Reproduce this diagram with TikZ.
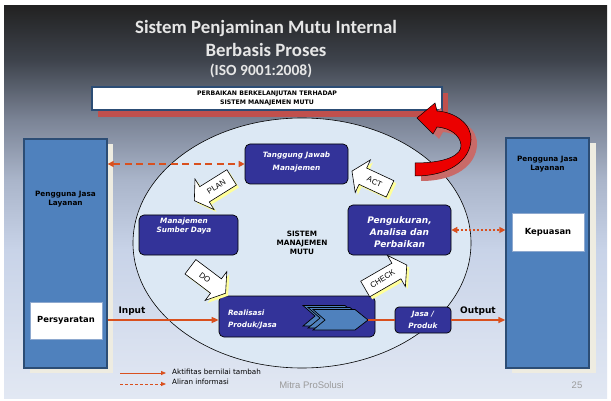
\documentclass[tikz,border=0pt]{standalone}
\usepackage{fontspec}
\setmainfont{DejaVu Sans}
\newfontfamily\titlefont{Carlito}
\newfontfamily\arialfont{Liberation Sans}
\usetikzlibrary{arrows.meta,calc,shapes.geometric}

% slide background, light at the bottom, dark at the top
% (TikZ fits the path into the middle half of a declared shading)
\definecolor{bgA}{HTML}{E2E8F3}
\definecolor{bgB}{HTML}{C8D3E8}
\definecolor{bgC}{HTML}{AAB5CA}
\definecolor{bgD}{HTML}{7B8496}
\definecolor{bgE}{HTML}{3E434C}
\definecolor{bgF}{HTML}{222222}
\pgfdeclareverticalshading{slidebg}{100bp}{color(0bp)=(bgA); color(25bp)=(bgA); color(43.9bp)=(bgB); color(52.8bp)=(bgC); color(60.45bp)=(bgD); color(68.1bp)=(bgE); color(75bp)=(bgF); color(100bp)=(bgF)}

\definecolor{userblue}{HTML}{4F81BD}
\definecolor{userborder}{HTML}{2C4D75}
\definecolor{cream}{HTML}{EEECE1}
\definecolor{procblue}{HTML}{333399}
\definecolor{flowred}{HTML}{D9501E}
\definecolor{shadowred}{HTML}{C0504D}
\definecolor{ellipsefill}{HTML}{DCE8F4}
\definecolor{hiyellow}{HTML}{FFFF99}
\definecolor{titlegray}{HTML}{E6E6E6}
\definecolor{footgray}{HTML}{9A9A9A}
\definecolor{chevblue}{HTML}{4F81BD}
\definecolor{reqborder}{HTML}{8EA9CF}

% white PDCA block arrow: name, centre, direction, length, label, label angle
\newcommand{\pdcaarrow}[6]{%
  \begin{scope}[shift={#2}, shift={(2.5,2.5)}, rotate=#3]
    \fill[hiyellow] ({-0.5*#4},-9) -- ({0.5*#4-12},-9) -- ({0.5*#4-12},-18) -- ({0.5*#4},0)
      -- ({0.5*#4-12},18) -- ({0.5*#4-12},9) -- ({-0.5*#4},9) -- cycle;
  \end{scope}
  \begin{scope}[shift={#2}, rotate=#3]
    \draw[pdcabody] ({-0.5*#4},-9) -- ({0.5*#4-12},-9) -- ({0.5*#4-12},-18) -- ({0.5*#4},0)
      -- ({0.5*#4-12},18) -- ({0.5*#4-12},9) -- ({-0.5*#4},9) -- cycle;
    \node[pdcalabel, rotate=#6] (#1) at (-4,0) {#5};
  \end{scope}}

\begin{document}
\begin{tikzpicture}[x=1pt, y=-1pt,
  userbox/.style={draw=userborder, line width=1.3pt, fill=userblue, inner sep=0pt},
  usertext/.style={font=\bfseries\fontsize{7.3}{9.5}\selectfont, align=center, inner sep=0pt},
  reqbox/.style={draw=reqborder, line width=0.8pt, fill=white, inner sep=0pt,
    minimum width=72, minimum height=37, font=\bfseries\fontsize{8.4}{10}\selectfont},
  procbox/.style={draw=black, line width=0.7pt, fill=procblue, rounded corners=5pt, inner sep=0pt},
  proctext/.style={text=white, font=\bfseries\itshape\fontsize{7.3}{12.5}\selectfont, align=center, inner sep=0pt},
  flow/.style={draw=flowred, line width=1.4pt},
  pdcabody/.style={draw=black, line width=0.6pt, fill=white},
  pdcalabel/.style={font=\arialfont\fontsize{7.8}{9}\selectfont, inner sep=0pt},
  chevron/.style={draw=black, line width=0.7pt, fill=chevblue},
  redarrow/.style={draw=black, line width=0.5pt, fill=red!92!black},
  flowlabel/.style={font=\bfseries\fontsize{9}{10}\selectfont, inner sep=0pt}]

\useasboundingbox (0,0) rectangle (611,401);
\fill[white] (0,0) rectangle (611,401);
\shade[shading=slidebg] (4,6) rectangle (607,398);

% heading
\node[text=titlegray, font=\titlefont\bfseries\fontsize{18.8}{20}\selectfont] (title1) at (266,28) {Sistem Penjaminan Mutu Internal};
\node[text=titlegray, font=\titlefont\bfseries\fontsize{18.8}{20}\selectfont] (title2) at (266,50) {Berbasis Proses};
\node[text=titlegray, font=\titlefont\bfseries\fontsize{15.5}{17}\selectfont] (title3) at (261,71) {(ISO 9001:2008)};

% continual improvement banner
\fill[shadowred] (98,93) rectangle (448,117);
\node[draw=userborder, line width=1.2pt, fill=white, minimum width=350, minimum height=23, inner sep=0pt,
  font=\bfseries\fontsize{6.2}{9}\selectfont, align=center] (banner) at (267,98.5)
  {PERBAIKAN BERKELANJUTAN TERHADAP\\SISTEM MANAJEMEN MUTU};

% quality management system
\node[ellipse, draw=black, line width=0.6pt, fill=ellipsefill, minimum width=338, minimum height=250, inner sep=0pt,
  font=\bfseries\fontsize{7.3}{8.7}\selectfont, align=center] (sms) at (302,243) {SISTEM\\MANAJEMEN\\MUTU};

% customers on the left
\fill[cream] (30,144) rectangle (113,373);
\node[userbox, minimum width=83, minimum height=229] (leftuser) at (65.5,253.5) {};
\node[usertext] (leftusertext) at (65.5,199) {Pengguna Jasa\\Layanan};
\node[reqbox] (persyaratan) at (66,320.5) {Persyaratan};

% customers on the right
\fill[cream] (512,143) rectangle (596,373);
\node[userbox, minimum width=83, minimum height=230] (rightuser) at (547.5,253) {};
\node[usertext] (rightusertext) at (547.5,164) {Pengguna Jasa\\Layanan};
\node[reqbox, minimum height=38] (kepuasan) at (548,232) {Kepuasan};

% processes
\node[procbox, minimum width=103, minimum height=40] (tanggung) at (296.5,164) {};
\node[proctext] (tanggungtext) at (296.5,162) {Tanggung Jawab\\Manajemen};
\node[procbox, minimum width=99, minimum height=40] (msd) at (188.5,235) {};
\node[proctext, font=\bfseries\itshape\fontsize{7.3}{9}\selectfont] (msdtext) at (184,226) {Manajemen\\Sumber Daya};
\node[procbox, minimum width=103, minimum height=50] (ukur) at (399.5,230) {};
\node[proctext, font=\bfseries\itshape\fontsize{9}{12}\selectfont] (ukurtext) at (399.5,232) {Pengukuran,\\Analisa dan\\Perbaikan};
\node[procbox, minimum width=156, minimum height=41] (realisasi) at (297,316.5) {};
\node[proctext, align=left, anchor=west, font=\bfseries\itshape\fontsize{7.3}{12}\selectfont] (realisasitext) at (228,319) {Realisasi\\Produk/Jasa};
\node[procbox, minimum width=56, minimum height=26, rounded corners=4pt] (jasa) at (423,320) {};
\node[proctext, font=\bfseries\itshape\fontsize{7.3}{12}\selectfont] (jasatext) at (423,319.5) {Jasa /\\Produk};

% stacked chevrons inside product realisation
\foreach \dx/\dy in {-10/-4, -5/-2, 0/0}
  \draw[chevron, shift={(\dx,\dy)}] (313,309.5) -- (355,309.5) -- (368,320) -- (355,330) -- (313,330) -- (325,320) -- cycle;
\coordinate (chevtip) at (368,320);

% PLAN - DO - CHECK - ACT
\pdcaarrow{plan}{(213,189)}{212}{44}{PLAN}{32}
\pdcaarrow{do}{(208,280)}{-37}{44}{DO}{-37}
\pdcaarrow{act}{(371,180)}{155}{42}{ACT}{-25}
\pdcaarrow{check}{(386,277)}{30}{48}{CHECK}{32}

% information flows
\draw[flow, dash pattern=on 7pt off 4.5pt, {Triangle[length=6pt,width=6pt]}-{Triangle[length=6pt,width=6pt]}]
  (leftuser.east |- tanggung.west) -- (tanggung.west);
\draw[flow, line width=2pt, dash pattern=on 2pt off 2pt, {Triangle[length=6pt,width=6pt]}-{Triangle[length=6pt,width=6pt]}]
  (ukur.east) -- (rightuser.west |- ukur.east);

% value adding flows
\draw[flow, -{Triangle[length=7pt,width=6pt]}] (leftuser.east |- chevtip) -- (realisasi.west |- chevtip);
\draw[flow] (chevtip) -- (jasa.west);
\draw[flow, -{Triangle[length=7pt,width=6pt]}] (jasa.east) -- (rightuser.west |- jasa.east);
\node[flowlabel] (inputlabel) at (132,311) {Input};
\node[flowlabel] (outputlabel) at (478,311) {Output};

% continual improvement loop arrow
\fill[shadowred!85, shift={(6,5)}] (415,163) .. controls (446,163) and (462,155) .. (461,145)
  .. controls (460,135) and (450,128) .. (437,127) -- (433,134) -- (417,118) -- (435,103) -- (437,111)
  .. controls (455,112) and (472,124) .. (471,140) .. controls (470,160) and (450,176) .. (415,176) -- cycle;
\draw[redarrow] (415,163) .. controls (446,163) and (462,155) .. (461,145)
  .. controls (460,135) and (450,128) .. (437,127) -- (433,134) -- (417,118) -- (435,103) -- (437,111)
  .. controls (455,112) and (472,124) .. (471,140) .. controls (470,160) and (450,176) .. (415,176) -- cycle;

% legend
\coordinate (legA1) at (120,373);
\coordinate (legA2) at (166,373);
\coordinate (legB1) at (120,384);
\coordinate (legB2) at (166,384);
\draw[draw=flowred, line width=0.8pt, -{Triangle[length=5pt,width=4pt]}] (legA1) -- (legA2);
\draw[draw=flowred, line width=0.8pt, dash pattern=on 3pt off 2pt, -{Triangle[length=5pt,width=4pt]}] (legB1) -- (legB2);
\node[anchor=west, inner sep=0pt, font=\fontsize{7.2}{8}\selectfont] (legAtext) at (172,372) {Aktifitas bernilai tambah};
\node[anchor=west, inner sep=0pt, font=\fontsize{7.2}{8}\selectfont] (legBtext) at (172,382) {Aliran informasi};

% footer
\node[text=footgray, font=\arialfont\fontsize{9.5}{10}\selectfont] (footer) at (311.5,385) {Mitra ProSolusi};
\node[text=footgray, font=\arialfont\fontsize{9.5}{10}\selectfont] (pagenum) at (577,385) {25};
\end{tikzpicture}
\end{document}
